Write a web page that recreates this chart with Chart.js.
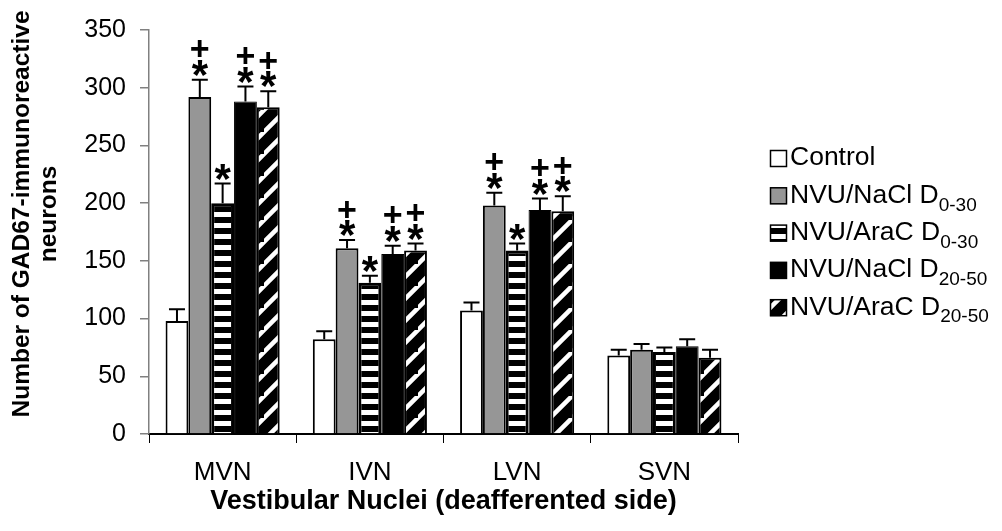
<!DOCTYPE html>
<html>
<head>
<meta charset="utf-8">
<script src="https://cdn.jsdelivr.net/npm/chart.js@4.4.0/dist/chart.umd.min.js"></script>
<style>
  html, body { margin: 0; padding: 0; background: #fff; }
  #wrap { width: 1002px; height: 531px; position: relative; }
</style>
</head>
<body>
<div id="wrap"><canvas id="gadChart" width="1002" height="531"></canvas></div>
<script>
// data
var categories = ['MVN', 'IVN', 'LVN', 'SVN'];
var seriesNames = ['Control', 'NVU/NaCl D', 'NVU/AraC D', 'NVU/NaCl D', 'NVU/AraC D'];
var seriesSubs = ['', '0-30', '0-30', '20-50', '20-50'];
var yTitle = ['Number of GAD67-immunoreactive', 'neurons'];

var control = [98, 82, 107, 68];
var naclEarly = [292, 161, 198, 73];
var aracEarly = [200, 131, 159, 71];
var naclLate = [288, 156, 194, 76];
var aracLate = [283, 159, 193, 66];

var controlErr = [10, 7, 7, 5];
var naclEarlyErr = [15, 7, 11, 5];
var aracEarlyErr = [17, 6, 6, 4];
var naclLateErr = [13, 7, 10, 6];
var aracLateErr = [14, 6, 13, 7];

// significance marks above each bar
var controlSig = ['', '', '', ''];
var naclEarlySig = ['+*', '+*', '+*', ''];
var aracEarlySig = ['*', '*', '*', ''];
var naclLateSig = ['+*', '+*', '+*', ''];
var aracLateSig = ['+*', '+*', '+*', ''];

var yTicks = [0, 50, 100, 150, 200, 250, 300, 350];

var FONT = "'Liberation Sans', Arial, sans-serif";

function hStripes() {
  var c = document.createElement('canvas');
  c.width = 4; c.height = 11;
  var x = c.getContext('2d');
  x.fillStyle = '#000';
  x.fillRect(0, 0, 4, 11);
  x.fillStyle = '#fff';
  x.fillRect(0, 3, 4, 5);
  return x.createPattern(c, 'repeat');
}

function diagStripes() {
  var s = 22;
  var c = document.createElement('canvas');
  c.width = s; c.height = s;
  var x = c.getContext('2d');
  x.fillStyle = '#000';
  x.fillRect(0, 0, s, s);
  x.strokeStyle = '#fff';
  x.lineWidth = 4.5;
  x.beginPath();
  x.moveTo(-4, s + 4); x.lineTo(s + 4, -4);
  x.moveTo(-4 - s, s + 4); x.lineTo(4, -4);
  x.moveTo(s - 4, 2 * s + 4); x.lineTo(2 * s + 4, s - 4);
  x.stroke();
  return x.createPattern(c, 'repeat');
}

var fills = ['#ffffff', '#969696', hStripes(), '#000000', diagStripes()];
var borders = [2, 2, 3, 1, 2];
var values = [control, naclEarly, aracEarly, naclLate, aracLate];
var errs = [controlErr, naclEarlyErr, aracEarlyErr, naclLateErr, aracLateErr];
var sigs = [controlSig, naclEarlySig, aracEarlySig, naclLateSig, aracLateSig];

var datasets = [];
for (var i = 0; i < values.length; i++) {
  datasets.push({
    label: seriesNames[i] + (seriesSubs[i] ? ' ' + seriesSubs[i] : ''),
    data: values[i],
    errors: errs[i],
    sig: sigs[i],
    backgroundColor: fills[i],
    borderColor: '#000',
    borderWidth: borders[i],
    borderSkipped: 'bottom',
    barPercentage: 1.0,
    categoryPercentage: 0.775
  });
}

// only the upper half of the error bar, plus the * and + marks
var errorBars = {
  id: 'errorBars',
  afterDatasetsDraw: function (chart) {
    var ctx = chart.ctx;
    var y = chart.scales.y;
    ctx.save();
    chart.data.datasets.forEach(function (ds, di) {
      var meta = chart.getDatasetMeta(di);
      meta.data.forEach(function (bar, j) {
        var top = y.getPixelForValue(ds.data[j] + ds.errors[j]);
        ctx.strokeStyle = '#000';
        ctx.lineWidth = 2;
        ctx.beginPath();
        ctx.moveTo(bar.x, bar.y);
        ctx.lineTo(bar.x, top);
        ctx.moveTo(bar.x - 8, top);
        ctx.lineTo(bar.x + 8, top);
        ctx.stroke();

        var s = ds.sig[j];
        ctx.fillStyle = '#000';
        ctx.textAlign = 'center';
        ctx.textBaseline = 'alphabetic';
        if (s.indexOf('*') >= 0) drawMark(ctx, '*', 'bold 42px ' + FONT, bar.x, top - 12);
        if (s.indexOf('+') >= 0) drawMark(ctx, '+', 'bold 34px ' + FONT, bar.x, top - 31);
      });
    });
    ctx.restore();
  }
};

function drawMark(ctx, t, font, cx, cy) {
  ctx.font = font;
  var m = ctx.measureText(t);
  var base = cy + (m.actualBoundingBoxAscent - m.actualBoundingBoxDescent) / 2;
  ctx.fillText(t, cx, base);
}

// y title sits a bit above the plot centre in the original, so draw it here
var yTitlePlugin = {
  id: 'yTitlePlugin',
  afterDraw: function (chart) {
    var ctx = chart.ctx;
    ctx.save();
    ctx.translate(0, 214);
    ctx.rotate(-Math.PI / 2);
    ctx.font = 'bold 24.5px ' + FONT;
    ctx.fillStyle = '#000';
    ctx.textAlign = 'center';
    ctx.textBaseline = 'middle';
    ctx.fillText(yTitle[0], 0, 22);
    ctx.fillText(yTitle[1], 0, 49);
    ctx.restore();
  }
};

// legend with subscripts, drawn on the canvas
var sideLegend = {
  id: 'sideLegend',
  afterDraw: function (chart) {
    var ctx = chart.ctx;
    ctx.save();
    chart.data.datasets.forEach(function (ds, i) {
      var cy = 158 + i * 37.3;
      ctx.fillStyle = ds.backgroundColor;
      ctx.fillRect(770, cy - 8, 17, 17);
      ctx.strokeStyle = '#000';
      ctx.lineWidth = 1.5;
      ctx.strokeRect(770.5, cy - 7.5, 16, 16);
      ctx.fillStyle = '#000';
      ctx.textAlign = 'left';
      ctx.textBaseline = 'middle';
      ctx.font = '26.5px ' + FONT;
      ctx.fillText(seriesNames[i], 790, cy);
      if (seriesSubs[i]) {
        var w = ctx.measureText(seriesNames[i]).width;
        ctx.font = '19px ' + FONT;
        ctx.fillText(seriesSubs[i], 790 + w, cy + 10);
      }
    });
    ctx.restore();
  }
};

Chart.defaults.font.family = FONT;
Chart.defaults.color = '#000';

var gadChart = new Chart(document.getElementById('gadChart'), {
  type: 'bar',
  data: { labels: categories, datasets: datasets },
  plugins: [errorBars, yTitlePlugin, sideLegend],
  options: {
    responsive: false,
    animation: false,
    layout: { padding: { left: 10, right: 264, top: 30, bottom: 5 } },
    plugins: { legend: { display: false }, tooltip: { enabled: false } },
    scales: {
      x: {
        afterFit: function (s) { s.height = 92; },
        grid: { drawOnChartArea: false, drawTicks: true, tickLength: 9, color: '#000', lineWidth: 1 },
        border: { color: '#000', width: 2 },
        ticks: { font: { size: 26 }, padding: 14, color: '#000' },
        title: {
          display: true,
          text: 'Vestibular Nuclei (deafferented side)',
          font: { size: 27, weight: 'bold' },
          padding: { top: 4, bottom: 8 },
          color: '#000'
        }
      },
      y: {
        min: 0,
        max: 350,
        afterFit: function (s) { s.width = 139; },
        afterBuildTicks: function (s) { s.ticks = yTicks.map(function (v) { return { value: v }; }); },
        grid: { drawOnChartArea: false, drawTicks: true, tickLength: 9, color: '#808080', lineWidth: 1.5 },
        border: { color: '#808080', width: 1.5 },
        ticks: { font: { size: 25 }, padding: 14, color: '#000' }
      }
    }
  }
});
</script>
</body>
</html>
